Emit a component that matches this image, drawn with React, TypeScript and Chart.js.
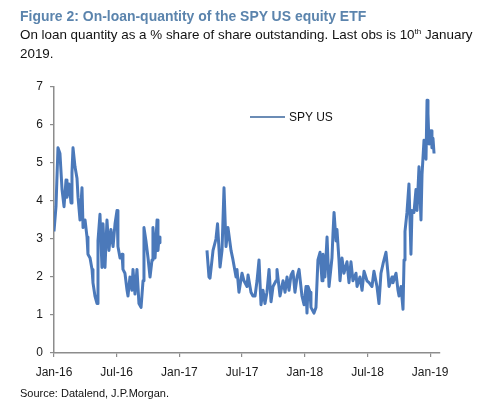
import { useEffect, useRef } from "react"
import { Chart, registerables } from "chart.js"

Chart.register(...registerables)

// months since 1 Jan 2016
const seg1Months = [
  0.0, 0.19, 0.38, 0.57, 0.77, 0.96, 1.15, 1.24, 1.44, 1.63, 1.72, 1.82, 2.01, 2.2, 2.3, 2.49, 2.68, 2.78, 2.97,
  3.16, 3.25, 3.45, 3.64, 3.73, 3.92, 4.12, 4.21, 4.4, 4.59, 4.69, 4.88, 5.07, 5.26, 5.45, 5.65, 5.84, 6.03, 6.12,
  6.32, 6.51, 6.6, 6.79, 6.99, 7.08, 7.27, 7.46, 7.56, 7.75, 7.94, 8.13, 8.33, 8.52, 8.61, 8.8, 9.0, 9.19, 9.38,
  9.47, 9.67, 9.86, 9.95, 10.05, 10.14,
]
const seg1Values = [
  3.2, 3.85, 5.4, 5.25, 4.3, 3.85, 4.55, 4.1, 4.45, 3.95, 4.75, 5.4, 4.9, 4.6, 4.1, 3.5, 4.35, 3.3, 3.5,
  3.05, 2.6, 2.5, 2.2, 1.85, 1.5, 1.3, 2.95, 3.65, 2.25, 3.4, 2.25, 3.5, 2.7, 3.25, 2.8, 3.4, 3.75, 2.8,
  2.5, 2.6, 2.2, 2.1, 1.65, 1.5, 2.0, 1.65, 2.2, 1.55, 2.2, 1.3, 1.2, 1.9, 3.3, 2.95, 2.5, 2.0, 2.45,
  3.3, 2.5, 3.5, 2.7, 3.05, 2.9,
]

const seg2Months = [
  14.64, 14.83, 14.93, 15.22, 15.5, 15.65, 15.89, 16.08, 16.27, 16.46, 16.65, 16.94, 17.13, 17.42, 17.51, 17.7,
  17.99, 18.18, 18.47, 18.57, 18.85, 19.04, 19.24, 19.43, 19.62, 19.81, 20.0, 20.19, 20.38, 20.58, 20.77, 20.96,
  21.25, 21.34, 21.63, 21.92, 22.11, 22.3, 22.49, 22.68, 22.87, 23.06, 23.26, 23.45, 23.73, 23.93, 24.12, 24.21,
  24.31, 24.5, 24.59, 24.88, 25.07, 25.26, 25.46, 25.65, 25.74, 25.93, 26.13, 26.32, 26.6, 26.7, 26.8, 26.99,
  27.08, 27.27, 27.37, 27.56, 27.75, 28.04, 28.23, 28.42, 28.61, 28.9, 29.0, 29.28, 29.48, 29.67, 29.95, 30.15,
  30.43, 30.62, 30.91, 31.1, 31.29, 31.49, 31.77, 31.96, 32.06, 32.35, 32.44, 32.73, 32.92, 33.02, 33.21, 33.4,
  33.5, 33.59, 33.78, 33.97, 34.16, 34.26, 34.45, 34.64, 34.74, 34.93, 35.12, 35.22, 35.41, 35.6, 35.7, 35.79,
  35.89, 36.08, 36.17, 36.27, 36.37,
]
const seg2Values = [
  2.7, 2.0, 1.97, 2.7, 3.0, 3.4, 2.26, 2.7, 4.35, 2.8, 3.3, 2.7, 2.45, 2.0, 2.2, 1.6,
  2.1, 1.9, 1.75, 2.05, 1.6, 1.5, 1.5, 1.9, 2.45, 1.27, 1.65, 1.3, 1.6, 2.2, 1.35, 1.75,
  1.9, 2.2, 1.5, 1.9, 1.6, 2.0, 1.65, 2.05, 2.15, 1.6, 2.0, 2.2, 1.5, 1.27, 1.75, 1.05,
  1.75, 1.6, 1.2, 1.05, 1.2, 2.45, 2.65, 1.9, 2.6, 2.0, 3.05, 1.75, 2.5, 3.15, 3.7, 2.95,
  3.25, 2.45, 1.9, 2.5, 2.1, 2.4, 1.85, 2.4, 1.9, 2.1, 1.75, 2.0, 1.65, 2.15, 1.9, 1.85,
  1.75, 2.15, 1.75, 1.3, 2.1, 2.35, 2.65, 2.1, 1.75, 2.0, 1.85, 2.1, 1.65, 1.5, 1.75, 1.15,
  2.45, 3.2, 3.7, 4.45, 2.6, 3.75, 3.7, 4.3, 3.75, 4.9, 3.5, 4.7, 5.6, 5.1, 6.65, 6.3,
  5.5, 5.85, 5.4, 5.65, 5.25,
]

const xTickLabels = ["Jan-16", "Jul-16", "Jan-17", "Jul-17", "Jan-18", "Jul-18", "Jan-19"]
const seriesName = "SPY US"

const FONT = "'Liberation Sans', Arial, sans-serif"
const LINE_COLOR = "#4b79ba"

export default function App() {
  const chartRef = useRef<HTMLCanvasElement>(null)
  const chartInstance = useRef<Chart | null>(null)

  useEffect(() => {
    if (!chartRef.current) return
    if (chartInstance.current) chartInstance.current.destroy()

    const points = [
      ...seg1Months.map((m, i) => ({ x: m, y: seg1Values[i] as number | null })),
      { x: 12.4, y: null },
      ...seg2Months.map((m, i) => ({ x: m, y: seg2Values[i] as number | null })),
    ]

    const ctx = chartRef.current.getContext("2d")
    if (ctx) {
      chartInstance.current = new Chart(ctx, {
        type: "line",
        data: {
          datasets: [
            {
              label: seriesName,
              data: points,
              borderColor: LINE_COLOR,
              borderWidth: 3,
              borderJoinStyle: "round",
              pointRadius: 0,
              tension: 0,
              spanGaps: false,
            },
          ],
        },
        options: {
          animation: false,
          responsive: false,
          events: [],
          layout: { padding: { left: 0, top: 87, right: 60, bottom: 14 } },
          plugins: { legend: { display: false }, tooltip: { enabled: false } },
          scales: {
            x: {
              type: "linear",
              min: 0,
              max: 36.94,
              afterFit: (s) => {
                s.height = 40
              },
              grid: { drawOnChartArea: false, drawTicks: true, tickLength: 4, color: "#8c8c8c", lineWidth: 1.2 },
              border: { color: "#8c8c8c", width: 1.5 },
              ticks: {
                stepSize: 6,
                includeBounds: false,
                autoSkip: false,
                maxRotation: 0,
                padding: 8,
                color: "#1a1a1a",
                font: { family: FONT, size: 12 },
                callback: (v) => {
                  const n = Number(v)
                  return n % 6 === 0 ? xTickLabels[n / 6] : ""
                },
              },
            },
            y: {
              min: 0,
              max: 7,
              afterFit: (s) => {
                s.width = 54
              },
              grid: { drawOnChartArea: false, drawTicks: true, tickLength: 4, color: "#8c8c8c", lineWidth: 1.2 },
              border: { color: "#8c8c8c", width: 1.5 },
              ticks: {
                stepSize: 1,
                padding: 7,
                color: "#1a1a1a",
                font: { family: FONT, size: 12 },
              },
            },
          },
        },
      })
    }

    return () => {
      if (chartInstance.current) {
        chartInstance.current.destroy()
        chartInstance.current = null
      }
    }
  }, [])

  return (
    <div style={{ position: "fixed", left: 0, top: 0, width: 500, height: 407, background: "#fff", fontFamily: FONT }}>
      <canvas ref={chartRef} width={500} height={407} style={{ position: "absolute", left: 0, top: 0, width: 500, height: 407 }} />
      <div
        style={{
          position: "absolute",
          left: 20,
          top: 8,
          fontSize: 15,
          lineHeight: "15px",
          fontWeight: "bold",
          color: "#5b84ad",
          whiteSpace: "nowrap",
          transform: "scaleX(0.93)",
          transformOrigin: "left top",
        }}
      >
        Figure 2: On-loan-quantity of the SPY US equity ETF
      </div>
      <div
        style={{
          position: "absolute",
          left: 20,
          top: 25,
          fontSize: 13.4,
          lineHeight: "19px",
          color: "#111",
          whiteSpace: "nowrap",
        }}
      >
        On loan quantity as a % share of share outstanding. Last obs is 10
        <sup style={{ fontSize: 8, lineHeight: 0 }}>th</sup> January
        <br />
        2019.
      </div>
      <div
        style={{
          position: "absolute",
          left: 250,
          top: 110,
          display: "flex",
          alignItems: "center",
          fontSize: 12,
          color: "#111",
          whiteSpace: "nowrap",
        }}
      >
        <span style={{ display: "inline-block", width: 35, height: 2, background: "#6b8cb5", marginRight: 4 }} />
        {seriesName}
      </div>
      <div
        style={{
          position: "absolute",
          left: 20,
          top: 388,
          fontSize: 11,
          lineHeight: "11px",
          color: "#111",
          whiteSpace: "nowrap",
        }}
      >
        Source: Datalend, J.P.Morgan.
      </div>
    </div>
  )
}
